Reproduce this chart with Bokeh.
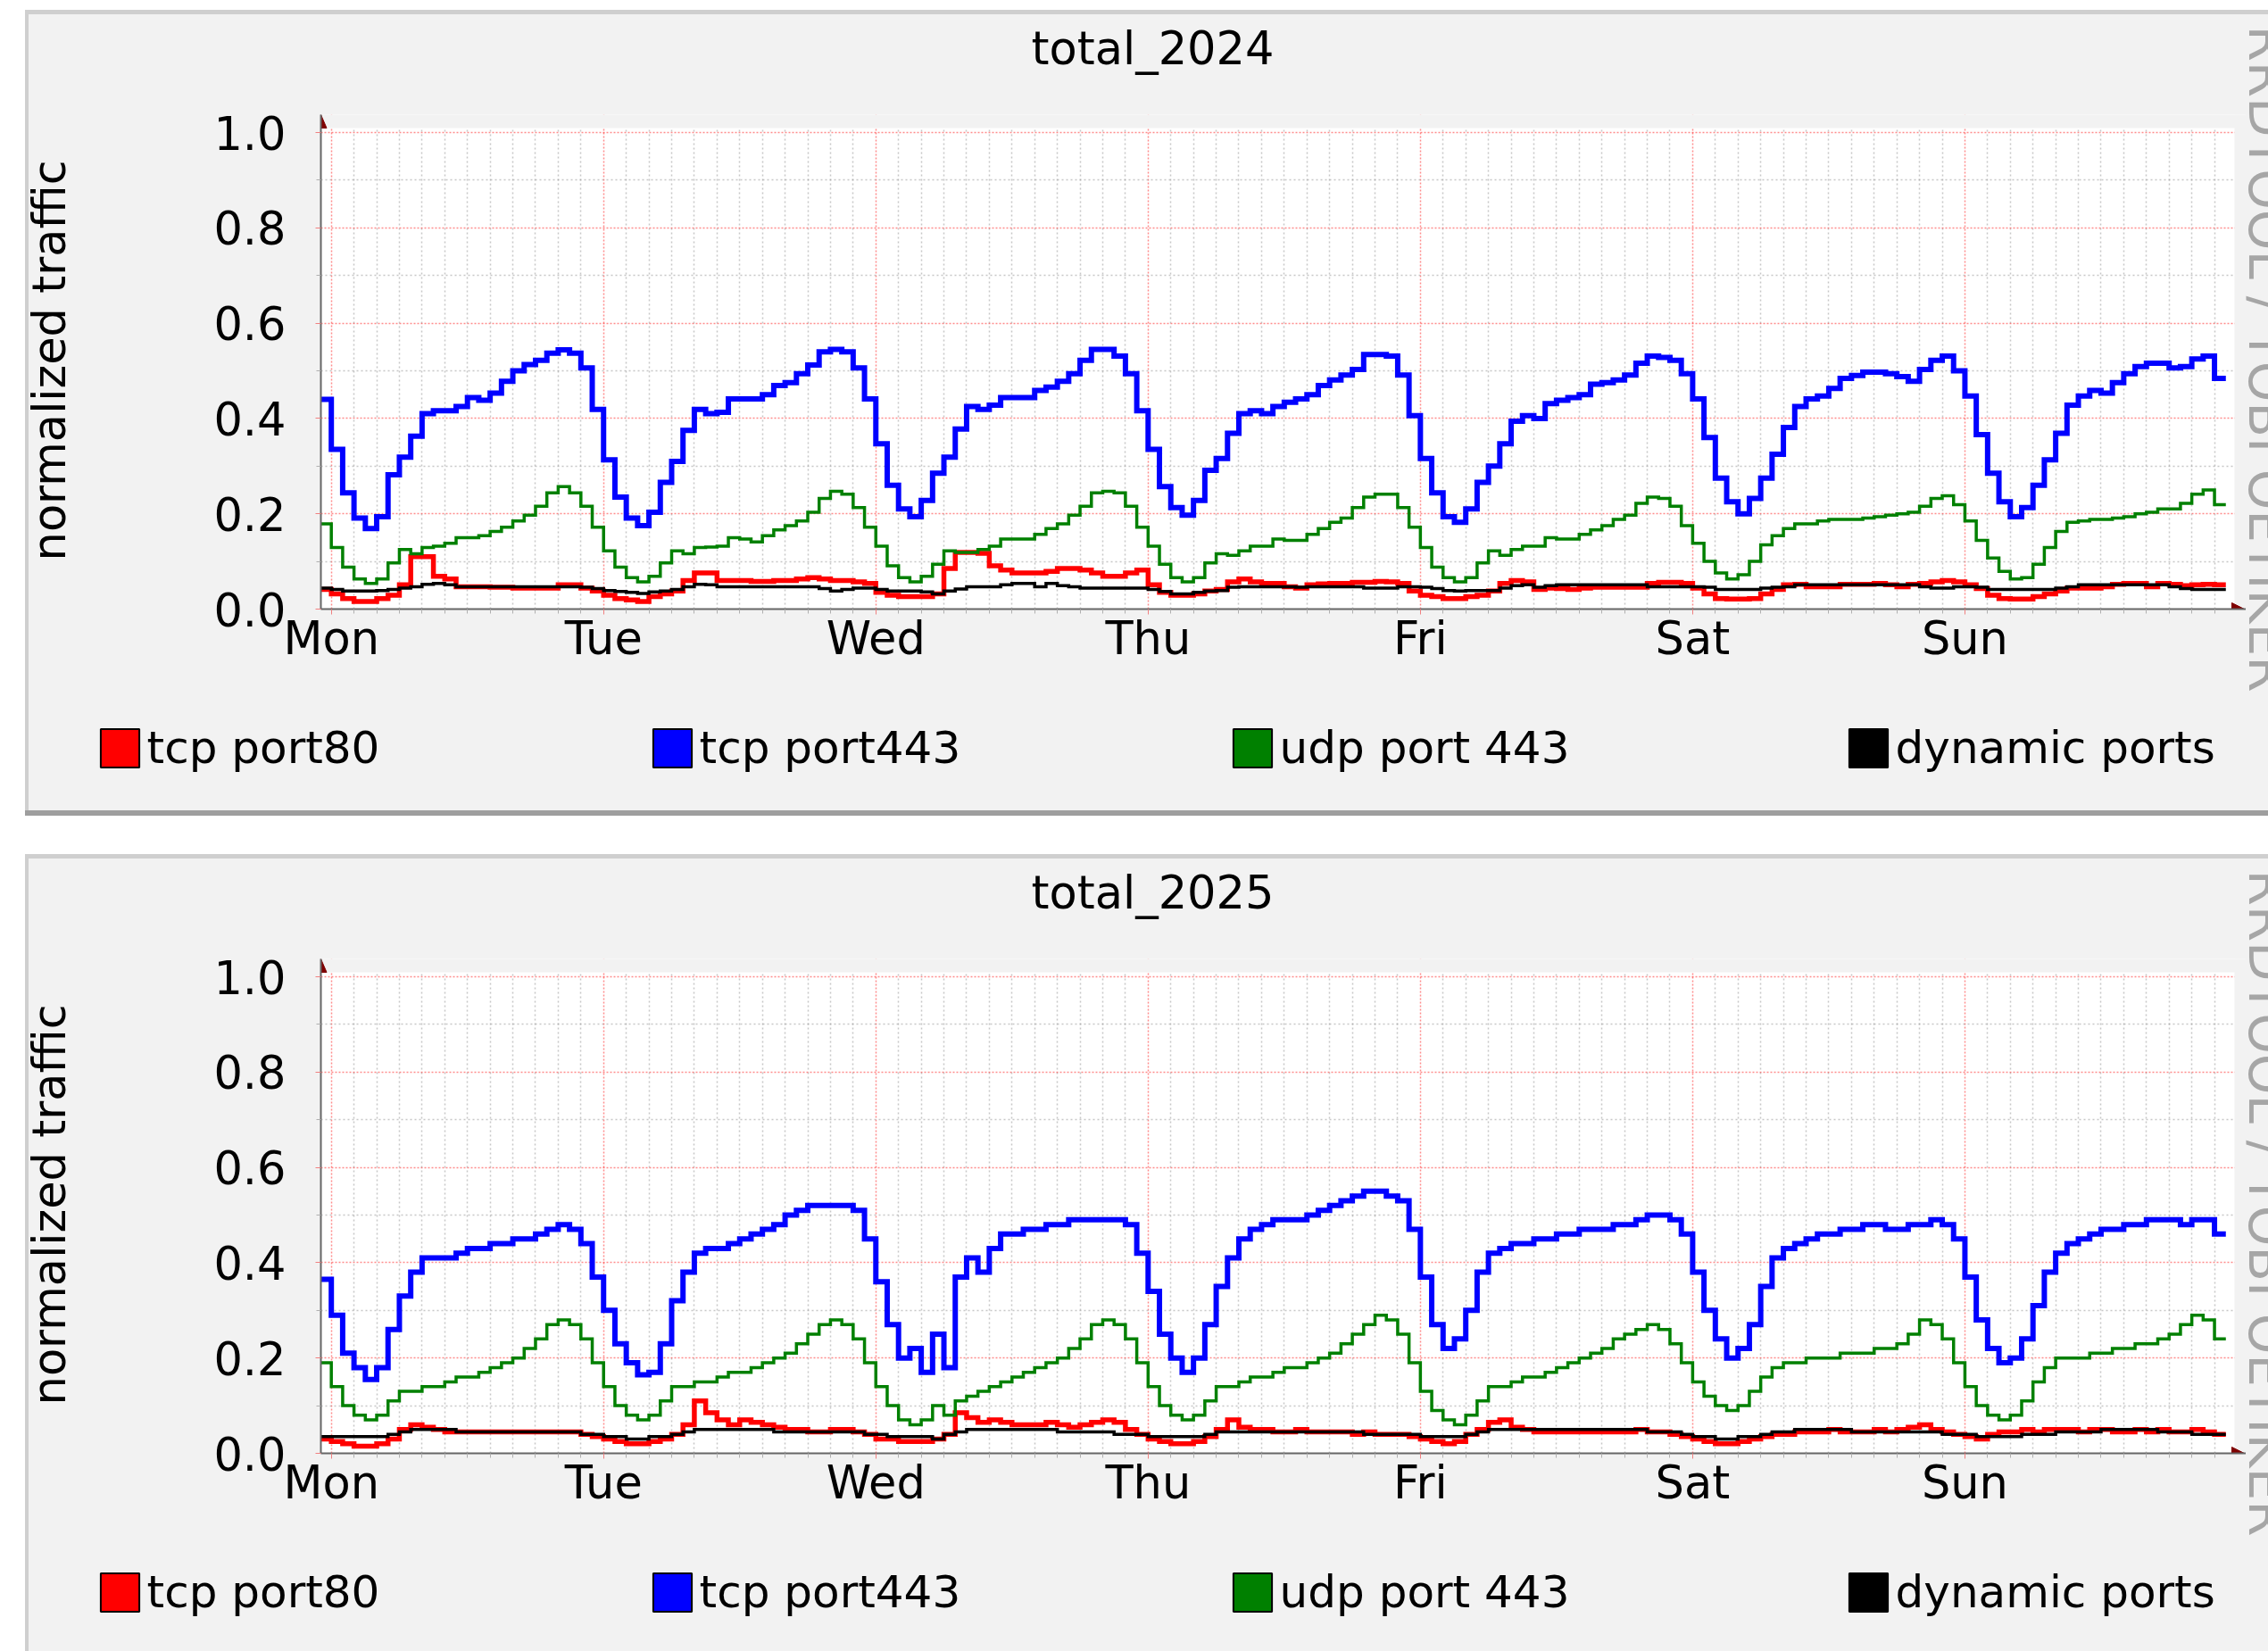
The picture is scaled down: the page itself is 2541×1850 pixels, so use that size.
import numpy as np
from bokeh.plotting import figure
from bokeh.models import (Range1d, FixedTicker, NumeralTickFormatter, Label,
                          Legend, LegendItem, Spacer, BoxAnnotation)
from bokeh.layouts import column, row
from bokeh.core.properties import value
from bokeh.embed import file_html
from bokeh.resources import INLINE

# ---------------- data (hourly samples, hour -1 .. 166 relative to Monday 00:00) -------------
hours = list(range(-1, 167))
day_ticks = [0, 24, 48, 72, 96, 120, 144]
day_labels = ["Mon", "Tue", "Wed", "Thu", "Fri", "Sat", "Sun"]
y_ticks = [0.0, 0.2, 0.4, 0.6, 0.8, 1.0]
series_names = ["tcp port80", "tcp port443", "udp port 443", "dynamic ports"]
series_colors = ["#FF0000", "#0000FF", "#008000", "#000000"]
titles = ["total_2024", "total_2025"]

tcp443_2024 = [0.44, 0.335, 0.244, 0.191, 0.169, 0.194, 0.282, 0.319, 0.363, 0.41, 0.416, 0.416,
               0.425, 0.444, 0.438, 0.453, 0.478, 0.5, 0.513, 0.522, 0.537, 0.544, 0.537, 0.506,
               0.419, 0.313, 0.235, 0.191, 0.175, 0.203, 0.266, 0.31, 0.375, 0.419, 0.41, 0.413,
               0.441, 0.441, 0.441, 0.45, 0.469, 0.475, 0.494, 0.512, 0.54, 0.545, 0.54, 0.506,
               0.441, 0.347, 0.26, 0.21, 0.194, 0.228, 0.285, 0.319, 0.378, 0.425, 0.419, 0.428,
               0.444, 0.444, 0.444, 0.459, 0.466, 0.478, 0.494, 0.522, 0.545, 0.545, 0.531, 0.494,
               0.416, 0.335, 0.257, 0.213, 0.197, 0.228, 0.291, 0.316, 0.369, 0.41, 0.416, 0.41,
               0.425, 0.434, 0.441, 0.45, 0.469, 0.481, 0.491, 0.503, 0.534, 0.534, 0.531, 0.491,
               0.406, 0.316, 0.244, 0.194, 0.182, 0.21, 0.266, 0.3, 0.347, 0.394, 0.406, 0.4,
               0.431, 0.438, 0.444, 0.45, 0.472, 0.475, 0.481, 0.491, 0.516, 0.531, 0.528, 0.522,
               0.494, 0.441, 0.36, 0.275, 0.225, 0.2, 0.232, 0.275, 0.325, 0.381, 0.425, 0.441,
               0.447, 0.463, 0.484, 0.49, 0.497, 0.497, 0.494, 0.488, 0.478, 0.503, 0.522, 0.531,
               0.5, 0.447, 0.366, 0.285, 0.225, 0.194, 0.213, 0.26, 0.313, 0.369, 0.428, 0.447,
               0.459, 0.453, 0.475, 0.494, 0.509, 0.516, 0.516, 0.506, 0.509, 0.525, 0.531, 0.484]

udp443_2024 = [0.179, 0.129, 0.088, 0.063, 0.054, 0.063, 0.097, 0.125, 0.116, 0.129, 0.132, 0.138,
               0.15, 0.15, 0.154, 0.163, 0.172, 0.185, 0.197, 0.216, 0.244, 0.257, 0.244, 0.216,
               0.172, 0.122, 0.088, 0.066, 0.057, 0.069, 0.097, 0.122, 0.116, 0.129, 0.13, 0.132,
               0.15, 0.147, 0.141, 0.154, 0.166, 0.175, 0.185, 0.203, 0.232, 0.247, 0.241, 0.213,
               0.172, 0.132, 0.091, 0.066, 0.057, 0.069, 0.094, 0.122, 0.119, 0.119, 0.125, 0.132,
               0.147, 0.147, 0.147, 0.157, 0.169, 0.179, 0.197, 0.216, 0.244, 0.247, 0.244, 0.216,
               0.172, 0.132, 0.094, 0.066, 0.057, 0.066, 0.097, 0.116, 0.113, 0.122, 0.132, 0.132,
               0.147, 0.144, 0.144, 0.157, 0.169, 0.182, 0.191, 0.213, 0.235, 0.241, 0.241, 0.213,
               0.172, 0.129, 0.088, 0.066, 0.057, 0.066, 0.097, 0.122, 0.113, 0.125, 0.132, 0.132,
               0.15, 0.147, 0.147, 0.157, 0.166, 0.175, 0.188, 0.197, 0.222, 0.235, 0.232, 0.216,
               0.175, 0.138, 0.1, 0.076, 0.063, 0.072, 0.1, 0.135, 0.154, 0.169, 0.179, 0.179,
               0.185, 0.188, 0.188, 0.188, 0.191, 0.194, 0.197, 0.2, 0.203, 0.216, 0.232, 0.238,
               0.219, 0.185, 0.144, 0.107, 0.079, 0.063, 0.066, 0.094, 0.129, 0.163, 0.182, 0.185,
               0.188, 0.188, 0.191, 0.194, 0.2, 0.203, 0.21, 0.21, 0.222, 0.241, 0.25, 0.219]

tcp80_2024 = [0.041, 0.032, 0.022, 0.016, 0.016, 0.022, 0.029, 0.051, 0.11, 0.11, 0.069, 0.063,
              0.047, 0.047, 0.047, 0.046, 0.046, 0.044, 0.044, 0.044, 0.044, 0.051, 0.051, 0.044,
              0.038, 0.029, 0.022, 0.019, 0.016, 0.026, 0.032, 0.038, 0.06, 0.076, 0.076, 0.06,
              0.06, 0.06, 0.058, 0.058, 0.06, 0.06, 0.063, 0.066, 0.063, 0.06, 0.06, 0.057,
              0.054, 0.035, 0.029, 0.026, 0.026, 0.026, 0.032, 0.085, 0.119, 0.119, 0.117, 0.091,
              0.082, 0.076, 0.076, 0.076, 0.079, 0.085, 0.085, 0.082, 0.076, 0.069, 0.069, 0.076,
              0.082, 0.051, 0.035, 0.029, 0.029, 0.032, 0.038, 0.041, 0.057, 0.063, 0.057, 0.054,
              0.054, 0.047, 0.044, 0.051, 0.053, 0.054, 0.054, 0.056, 0.056, 0.058, 0.057, 0.054,
              0.038, 0.029, 0.026, 0.022, 0.022, 0.026, 0.029, 0.038, 0.054, 0.06, 0.057, 0.041,
              0.044, 0.043, 0.041, 0.044, 0.046, 0.046, 0.046, 0.046, 0.046, 0.054, 0.056, 0.056,
              0.054, 0.044, 0.032, 0.022, 0.021, 0.021, 0.022, 0.032, 0.041, 0.051, 0.052, 0.047,
              0.047, 0.047, 0.052, 0.052, 0.052, 0.054, 0.051, 0.047, 0.052, 0.054, 0.057, 0.06,
              0.057, 0.051, 0.043, 0.029, 0.022, 0.021, 0.021, 0.026, 0.032, 0.038, 0.044, 0.044,
              0.044, 0.047, 0.052, 0.054, 0.054, 0.047, 0.054, 0.052, 0.049, 0.051, 0.052, 0.051]

dynamic_2024 = [0.044, 0.041, 0.038, 0.038, 0.038, 0.039, 0.041, 0.044, 0.047, 0.052, 0.054, 0.051,
                0.047, 0.047, 0.047, 0.047, 0.047, 0.047, 0.047, 0.047, 0.047, 0.047, 0.047, 0.046,
                0.043, 0.039, 0.037, 0.035, 0.033, 0.036, 0.038, 0.041, 0.047, 0.052, 0.051, 0.047,
                0.047, 0.047, 0.047, 0.047, 0.047, 0.047, 0.047, 0.047, 0.043, 0.038, 0.041, 0.044,
                0.044, 0.041, 0.038, 0.038, 0.038, 0.036, 0.032, 0.038, 0.042, 0.047, 0.047, 0.047,
                0.051, 0.054, 0.054, 0.047, 0.054, 0.049, 0.047, 0.044, 0.044, 0.044, 0.044, 0.044,
                0.044, 0.041, 0.037, 0.032, 0.032, 0.035, 0.038, 0.039, 0.046, 0.047, 0.047, 0.047,
                0.047, 0.047, 0.046, 0.047, 0.047, 0.047, 0.047, 0.047, 0.044, 0.044, 0.044, 0.047,
                0.047, 0.046, 0.043, 0.039, 0.038, 0.039, 0.039, 0.039, 0.044, 0.049, 0.051, 0.046,
                0.049, 0.051, 0.051, 0.051, 0.051, 0.051, 0.051, 0.051, 0.051, 0.047, 0.047, 0.047,
                0.047, 0.047, 0.046, 0.041, 0.041, 0.041, 0.041, 0.044, 0.046, 0.047, 0.051, 0.051,
                0.051, 0.051, 0.051, 0.051, 0.051, 0.051, 0.051, 0.051, 0.051, 0.047, 0.044, 0.044,
                0.047, 0.047, 0.046, 0.041, 0.041, 0.041, 0.041, 0.041, 0.041, 0.044, 0.047, 0.051,
                0.051, 0.051, 0.051, 0.051, 0.051, 0.051, 0.051, 0.047, 0.043, 0.041, 0.041, 0.041]

# 2025: one row per 24 samples (hour -1..22, 23..46, ...)
tcp443_2025 = [0.365, 0.29, 0.21, 0.18, 0.155, 0.18, 0.26, 0.33, 0.38, 0.41, 0.41, 0.41, 0.42, 0.43, 0.43, 0.44, 0.44, 0.45, 0.45, 0.46, 0.47, 0.48, 0.47, 0.44,
               0.37, 0.3, 0.23, 0.19, 0.165, 0.17, 0.23, 0.32, 0.38, 0.42, 0.43, 0.43, 0.44, 0.45, 0.46, 0.47, 0.48, 0.5, 0.51, 0.52, 0.52, 0.52, 0.52, 0.51,
               0.45, 0.36, 0.27, 0.2, 0.22, 0.17, 0.25, 0.18, 0.37, 0.41, 0.38, 0.43, 0.46, 0.46, 0.47, 0.47, 0.48, 0.48, 0.49, 0.49, 0.49, 0.49, 0.49, 0.48,
               0.42, 0.34, 0.25, 0.2, 0.17, 0.2, 0.27, 0.35, 0.41, 0.45, 0.47, 0.48, 0.49, 0.49, 0.49, 0.5, 0.51, 0.52, 0.53, 0.54, 0.55, 0.55, 0.54, 0.53,
               0.47, 0.37, 0.27, 0.22, 0.24, 0.3, 0.38, 0.42, 0.43, 0.44, 0.44, 0.45, 0.45, 0.46, 0.46, 0.47, 0.47, 0.47, 0.48, 0.48, 0.49, 0.5, 0.5, 0.49,
               0.46, 0.38, 0.3, 0.24, 0.2, 0.22, 0.27, 0.35, 0.41, 0.43, 0.44, 0.45, 0.46, 0.46, 0.47, 0.47, 0.48, 0.48, 0.47, 0.47, 0.48, 0.48, 0.49, 0.48,
               0.45, 0.37, 0.28, 0.22, 0.19, 0.2, 0.24, 0.31, 0.38, 0.42, 0.44, 0.45, 0.46, 0.47, 0.47, 0.48, 0.48, 0.49, 0.49, 0.49, 0.48, 0.49, 0.49, 0.46]

udp443_2025 = [0.19, 0.14, 0.1, 0.08, 0.07, 0.08, 0.11, 0.13, 0.13, 0.14, 0.14, 0.15, 0.16, 0.16, 0.17, 0.18, 0.19, 0.2, 0.22, 0.24, 0.27, 0.28, 0.27, 0.24,
               0.19, 0.14, 0.1, 0.08, 0.07, 0.08, 0.11, 0.14, 0.14, 0.15, 0.15, 0.16, 0.17, 0.17, 0.18, 0.19, 0.2, 0.21, 0.23, 0.25, 0.27, 0.28, 0.27, 0.24,
               0.19, 0.14, 0.1, 0.07, 0.06, 0.07, 0.1, 0.08, 0.11, 0.12, 0.13, 0.14, 0.15, 0.16, 0.17, 0.18, 0.19, 0.2, 0.22, 0.24, 0.27, 0.28, 0.27, 0.24,
               0.19, 0.14, 0.1, 0.08, 0.07, 0.08, 0.11, 0.14, 0.14, 0.15, 0.16, 0.16, 0.17, 0.18, 0.18, 0.19, 0.2, 0.21, 0.23, 0.25, 0.27, 0.29, 0.28, 0.25,
               0.19, 0.13, 0.09, 0.07, 0.06, 0.08, 0.11, 0.14, 0.14, 0.15, 0.16, 0.16, 0.17, 0.18, 0.19, 0.2, 0.21, 0.22, 0.24, 0.25, 0.26, 0.27, 0.26, 0.23,
               0.19, 0.15, 0.12, 0.1, 0.09, 0.1, 0.13, 0.16, 0.18, 0.19, 0.19, 0.2, 0.2, 0.2, 0.21, 0.21, 0.21, 0.22, 0.22, 0.23, 0.25, 0.28, 0.27, 0.24,
               0.19, 0.14, 0.1, 0.08, 0.07, 0.08, 0.11, 0.15, 0.18, 0.2, 0.2, 0.2, 0.21, 0.21, 0.22, 0.22, 0.23, 0.23, 0.24, 0.25, 0.27, 0.29, 0.28, 0.24]

tcp80_2025 = [0.03, 0.025, 0.02, 0.015, 0.015, 0.02, 0.03, 0.05, 0.06, 0.055, 0.05, 0.045, 0.045, 0.045, 0.045, 0.045, 0.045, 0.045, 0.045, 0.045, 0.045, 0.045, 0.045, 0.04,
              0.035, 0.03, 0.025, 0.02, 0.02, 0.025, 0.03, 0.04, 0.06, 0.11, 0.085, 0.07, 0.06, 0.07, 0.065, 0.06, 0.055, 0.05, 0.05, 0.045, 0.045, 0.05, 0.05, 0.045,
              0.04, 0.03, 0.03, 0.025, 0.025, 0.025, 0.03, 0.04, 0.085, 0.075, 0.065, 0.07, 0.065, 0.06, 0.06, 0.06, 0.065, 0.06, 0.055, 0.06, 0.065, 0.07, 0.065, 0.05,
              0.04, 0.03, 0.025, 0.02, 0.02, 0.025, 0.035, 0.05, 0.07, 0.055, 0.05, 0.05, 0.045, 0.045, 0.05, 0.045, 0.045, 0.045, 0.045, 0.04, 0.045, 0.04, 0.04, 0.04,
              0.035, 0.03, 0.025, 0.02, 0.025, 0.04, 0.05, 0.065, 0.07, 0.055, 0.05, 0.045, 0.045, 0.045, 0.045, 0.045, 0.045, 0.045, 0.045, 0.045, 0.05, 0.045, 0.045, 0.04,
              0.035, 0.03, 0.025, 0.02, 0.02, 0.025, 0.03, 0.035, 0.04, 0.04, 0.045, 0.045, 0.045, 0.05, 0.045, 0.045, 0.045, 0.05, 0.045, 0.05, 0.055, 0.06, 0.05, 0.045,
              0.04, 0.035, 0.03, 0.04, 0.045, 0.045, 0.05, 0.045, 0.05, 0.05, 0.05, 0.045, 0.05, 0.05, 0.045, 0.045, 0.05, 0.045, 0.05, 0.045, 0.045, 0.05, 0.045, 0.04]

dynamic_2025 = [0.035, 0.035, 0.035, 0.035, 0.035, 0.035, 0.04, 0.045, 0.05, 0.05, 0.05, 0.05, 0.045, 0.045, 0.045, 0.045, 0.045, 0.045, 0.045, 0.045, 0.045, 0.045, 0.045, 0.04,
                0.04, 0.035, 0.035, 0.03, 0.03, 0.035, 0.035, 0.04, 0.045, 0.05, 0.05, 0.05, 0.05, 0.05, 0.05, 0.05, 0.045, 0.045, 0.045, 0.045, 0.045, 0.045, 0.045, 0.045,
                0.04, 0.04, 0.035, 0.035, 0.035, 0.035, 0.03, 0.04, 0.045, 0.05, 0.05, 0.05, 0.05, 0.05, 0.05, 0.05, 0.05, 0.045, 0.045, 0.045, 0.045, 0.045, 0.04, 0.04,
                0.04, 0.035, 0.035, 0.035, 0.035, 0.035, 0.04, 0.045, 0.045, 0.045, 0.045, 0.045, 0.045, 0.045, 0.045, 0.045, 0.045, 0.045, 0.045, 0.045, 0.04, 0.04, 0.04, 0.04,
                0.04, 0.035, 0.035, 0.035, 0.035, 0.04, 0.045, 0.05, 0.05, 0.05, 0.05, 0.05, 0.05, 0.05, 0.05, 0.05, 0.05, 0.05, 0.05, 0.05, 0.05, 0.045, 0.045, 0.045,
                0.04, 0.035, 0.035, 0.03, 0.03, 0.035, 0.035, 0.04, 0.045, 0.045, 0.05, 0.05, 0.05, 0.05, 0.05, 0.045, 0.045, 0.045, 0.045, 0.045, 0.045, 0.045, 0.045, 0.04,
                0.04, 0.04, 0.035, 0.035, 0.035, 0.035, 0.04, 0.04, 0.04, 0.045, 0.045, 0.045, 0.045, 0.05, 0.05, 0.05, 0.05, 0.05, 0.045, 0.045, 0.045, 0.04, 0.04, 0.04]

for arr in (tcp443_2024, udp443_2024, tcp80_2024, dynamic_2024,
            tcp443_2025, udp443_2025, tcp80_2025, dynamic_2025):
    assert len(arr) == len(hours), len(arr)

# ---------------- geometry (page pixels, relative to each panel's interior top) ----------------
FONT = "DejaVu Sans"
X_START, X_END = -0.92, 167.53          # visible data window (hours)
PANEL_L = 32                            # panel interior left edge
FRAME_L, GRID_R = 359, 2500             # value axis / right end of the grid
PX_PER_H = (GRID_R - FRAME_L) / (X_END - X_START)
PX_PER_V = 534.0
FRAME_R = 2516                          # frame extended to hold the arrow heads
GRID_T_OFF, FRAME_T_OFF, FRAME_B_OFF = 132, 112, 666
X_END_FRAME = X_END + (FRAME_R - GRID_R) / PX_PER_H
Y_TOP_FRAME = 1.0 + (GRID_T_OFF - FRAME_T_OFF) / PX_PER_V
TITLE_H = 94
MAIN_H = 660
MAIN_L = 100
YLAB_W = MAIN_L - PANEL_L
MAIN_W = FRAME_R - MAIN_L
LEFT_W = FRAME_R - PANEL_L
WM_W = 2541 - FRAME_R
MID = 0.35                              # em-box middle above the baseline
PANEL_BG = "#F2F2F2"
SHADE_A = "#CFCFCF"
SHADE_B = "#9E9E9E"
AXIS_C = "#666666"
ARROW_C = "#7F0000"
BG_STYLE = {"background-color": PANEL_BG}


def blank_fig(w, h):
    f = figure(width=w, height=h, x_range=Range1d(0, w), y_range=Range1d(0, h),
               x_axis_type=None, y_axis_type=None, output_backend="svg",
               toolbar_location=None, min_border=0)
    f.outline_line_color = None
    f.background_fill_color = PANEL_BG
    f.border_fill_color = PANEL_BG
    return f


def make_panel(title, series, panel_h):
    legend_h = panel_h - TITLE_H - MAIN_H

    # ---- title strip ----
    tf = blank_fig(LEFT_W, TITLE_H)
    title_base = 56                     # baseline below panel interior top
    tf.add_layout(Label(x=1291 - PANEL_L, y=TITLE_H - (title_base - MID * 51), text=title,
                        text_align="center", text_baseline="middle", text_font=FONT,
                        text_font_size="51px", text_color="black"))

    # ---- vertical axis title ----
    yf = blank_fig(YLAB_W, MAIN_H)
    ylab_center = 422 - TITLE_H         # anchor along the text, below main strip top
    yf.add_layout(Label(x=73 - MID * 51 - PANEL_L, y=MAIN_H - ylab_center,
                        text="normalized traffic", angle=np.pi / 2, text_align="center",
                        text_baseline="middle", text_font=FONT, text_font_size="51px",
                        text_color="black"))

    # ---- main chart ----
    p = figure(width=MAIN_W, height=MAIN_H, x_range=Range1d(X_START, X_END_FRAME),
               y_range=Range1d(0, Y_TOP_FRAME), output_backend="svg", toolbar_location=None,
               min_border_left=FRAME_L - MAIN_L, min_border_right=0,
               min_border_top=FRAME_T_OFF - TITLE_H,
               min_border_bottom=MAIN_H - (FRAME_B_OFF - TITLE_H))
    p.border_fill_color = PANEL_BG
    p.background_fill_color = "white"
    p.outline_line_color = None

    minor_x = [h for h in range(0, 168, 2) if h % 24 != 0]
    p.xaxis.ticker = FixedTicker(ticks=day_ticks, minor_ticks=minor_x)
    p.xaxis.major_label_overrides = {t: lab for t, lab in zip(day_ticks, day_labels)}
    p.yaxis.ticker = FixedTicker(ticks=y_ticks, minor_ticks=[0.1, 0.3, 0.5, 0.7, 0.9])
    p.yaxis.formatter = NumeralTickFormatter(format="0.0")
    for ax in (p.xaxis[0], p.yaxis[0]):
        ax.axis_line_color = AXIS_C
        ax.axis_line_width = 2
        ax.major_tick_in = 0
        ax.minor_tick_in = 0
        ax.major_tick_out = 6
        ax.minor_tick_out = 5
        ax.major_tick_line_color = "#F08080"
        ax.minor_tick_line_color = "#B0B0B0"
        ax.major_label_text_font = FONT
        ax.major_label_text_font_size = "51px"
        ax.major_label_text_color = "black"
    p.xaxis.major_label_standoff = -3
    p.yaxis.major_label_standoff = 33

    for g in (p.xgrid[0], p.ygrid[0]):
        g.grid_line_color = "#FF0000"
        g.grid_line_alpha = 0.45
        g.grid_line_dash = "2 2"
        g.grid_line_width = 1.5
        g.minor_grid_line_color = "#999999"
        g.minor_grid_line_alpha = 0.55
        g.minor_grid_line_dash = "2 3"
        g.minor_grid_line_width = 1.5

    # panel colour over the frame margin beyond the grid (leaves short tick stubs)
    p.add_layout(BoxAnnotation(bottom=1.0 + 5 / PX_PER_V, fill_color=PANEL_BG, fill_alpha=1,
                               line_color=None, level="underlay"))
    p.add_layout(BoxAnnotation(left=X_END + 3 / PX_PER_H, fill_color=PANEL_BG, fill_alpha=1,
                               line_color=None, level="underlay"))

    widths = [5.5, 6, 3.5, 3.5]
    xs = hours + [hours[-1] + 1]
    for vals, color, w in zip(series, series_colors, widths):
        ys = list(vals) + [vals[-1]]
        p.step(xs, ys, mode="after", line_color=color, line_width=w, line_join="miter")

    # arrow heads at the axis ends
    hw = 6.5 / PX_PER_H
    p.patch([X_START - hw, X_START + hw, X_START],
            [1.0 + 5 / PX_PER_V, 1.0 + 5 / PX_PER_V, Y_TOP_FRAME],
            fill_color=ARROW_C, line_color=ARROW_C)
    p.patch([X_END, X_END, X_END + 14 / PX_PER_H], [-7 / PX_PER_V, 7 / PX_PER_V, 0],
            fill_color=ARROW_C, line_color=ARROW_C)

    # ---- legend strip ----
    lf = blank_fig(LEFT_W, legend_h)
    leg_page_x = [112, 731, 1381, 2071]
    glyph = 54
    inset = glyph * 0.1
    item_h = 58
    top_from_strip = (802 - inset) - (TITLE_H + MAIN_H)
    vy = legend_h - top_from_strip - item_h + 4
    for name, color, lx in zip(series_names, series_colors, leg_page_x):
        r = lf.quad(left=[-3 * glyph], right=[-2 * glyph], top=[-2 * glyph], bottom=[-3 * glyph],
                    fill_color=color, line_color="black", line_width=2)
        leg = Legend(items=[LegendItem(label=value(name), renderers=[r])],
                     location=(lx - inset - PANEL_L, vy),
                     orientation="horizontal", glyph_width=glyph, glyph_height=glyph,
                     label_height=glyph, label_standoff=4, label_text_font=FONT,
                     label_text_font_size="50px", label_text_color="black",
                     padding=0, margin=0, spacing=0,
                     border_line_color=None, background_fill_alpha=0)
        lf.add_layout(leg)

    # ---- right strip: watermark (cut by the page edge like the original) ----
    wf = blank_fig(WM_W, panel_h)
    wf.add_layout(Label(x=2519 + MID * 58 - FRAME_R, y=panel_h - 12,
                        text="RRDTOOL / TOBI OETIKER", angle=-np.pi / 2, text_align="left",
                        text_baseline="middle", text_font=FONT, text_font_size="58px",
                        text_color="#A6A6A6"))

    left = column(tf, row(yf, p, styles=BG_STYLE), lf, styles=BG_STYLE)
    return row(left, wf, styles=BG_STYLE)


P1_H, P2_H = 892, 888
inner1 = make_panel(titles[0], [tcp80_2024, tcp443_2024, udp443_2024, dynamic_2024], P1_H)
inner2 = make_panel(titles[1], [tcp80_2025, tcp443_2025, udp443_2025, dynamic_2025], P2_H)

W_BOX = 2541 - 28


def stripe(w, h, color):
    return Spacer(width=w, height=h, styles={"background-color": color})


panel1 = row(Spacer(width=28, height=903),
             column(stripe(W_BOX, 5, SHADE_A),
                    row(stripe(4, P1_H, SHADE_A), inner1),
                    stripe(W_BOX, 6, SHADE_B)))
panel2 = row(Spacer(width=28, height=P2_H + 5),
             column(stripe(W_BOX, 5, SHADE_A),
                    row(stripe(4, P2_H, SHADE_A), inner2)))
layout = column(Spacer(width=10, height=11), panel1, Spacer(width=10, height=43), panel2)

open("out.html", "w").write(file_html(layout, INLINE))
